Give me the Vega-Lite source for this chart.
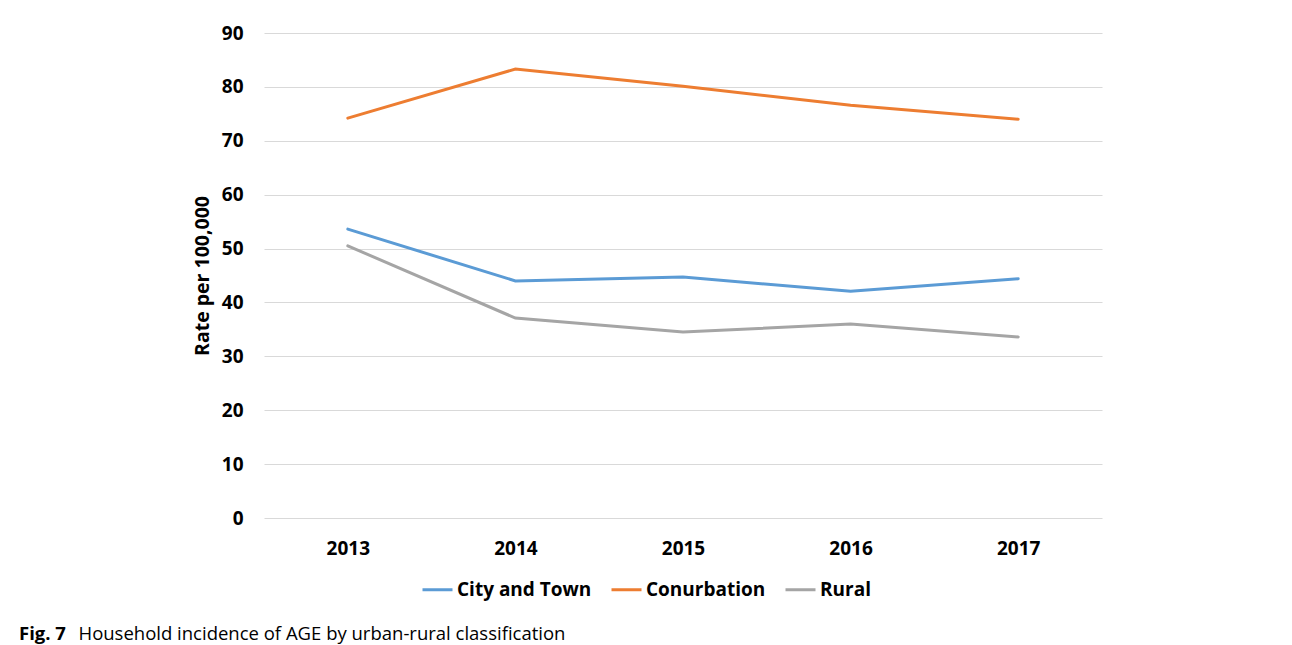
{
  "$schema": "https://vega.github.io/schema/vega-lite/v6.json",
  "width": 838,
  "height": 485,
  "autosize": {"type": "none"},
  "padding": {"left": 264, "top": 33, "right": 190, "bottom": 127},
  "background": "white",
  "title": {
    "text": "Fig. 7",
    "orient": "top",
    "anchor": "start",
    "frame": "group",
    "baseline": "alphabetic",
    "offset": 0,
    "dx": -245,
    "dy": 634,
    "font": "Open Sans",
    "fontSize": 18.5,
    "fontWeight": "bold",
    "color": "#000000"
  },
  "data": {
    "values": [
      {"year": "2013", "area": "City and Town", "rate": 53.6},
      {"year": "2014", "area": "City and Town", "rate": 44.0},
      {"year": "2015", "area": "City and Town", "rate": 44.7},
      {"year": "2016", "area": "City and Town", "rate": 42.1},
      {"year": "2017", "area": "City and Town", "rate": 44.4},
      {"year": "2013", "area": "Conurbation", "rate": 74.2},
      {"year": "2014", "area": "Conurbation", "rate": 83.3},
      {"year": "2015", "area": "Conurbation", "rate": 80.1},
      {"year": "2016", "area": "Conurbation", "rate": 76.6},
      {"year": "2017", "area": "Conurbation", "rate": 74.0},
      {"year": "2013", "area": "Rural", "rate": 50.5},
      {"year": "2014", "area": "Rural", "rate": 37.1},
      {"year": "2015", "area": "Rural", "rate": 34.5},
      {"year": "2016", "area": "Rural", "rate": 36.0},
      {"year": "2017", "area": "Rural", "rate": 33.6}
    ]
  },
  "mark": {"type": "line", "strokeWidth": 3, "strokeCap": "round"},
  "encoding": {
    "x": {
      "field": "year",
      "type": "ordinal",
      "scale": {"type": "point", "padding": 0.5},
      "axis": {
        "title": "Household incidence of AGE by urban-rural classification",
        "titleX": -186,
        "titleY": 121,
        "titleAlign": "left",
        "titleAnchor": null,
        "titleBaseline": "alphabetic",
        "titleFont": "Open Sans",
        "titleFontSize": 18.5,
        "titleFontWeight": "normal",
        "titleColor": "#000000",
        "labelAngle": 0,
        "labelFont": "Open Sans",
        "labelFontSize": 19,
        "labelFontWeight": "bold",
        "labelColor": "#000000",
        "labelPadding": 21,
        "ticks": false,
        "tickSize": 0,
        "domain": false,
        "grid": false
      }
    },
    "y": {
      "field": "rate",
      "type": "quantitative",
      "scale": {"domain": [0, 90], "nice": false},
      "axis": {
        "title": "Rate per 100,000",
        "titleFont": "Open Sans",
        "titleFontSize": 19.5,
        "titleFontWeight": "bold",
        "titleColor": "#000000",
        "titlePadding": 9,
        "values": [0, 10, 20, 30, 40, 50, 60, 70, 80, 90],
        "labelFont": "Open Sans",
        "labelFontSize": 19,
        "labelFontWeight": "bold",
        "labelColor": "#000000",
        "labelPadding": 21,
        "ticks": false,
        "tickSize": 0,
        "domain": false,
        "grid": true,
        "gridColor": "#d9d9d9",
        "gridWidth": 1.2
      }
    },
    "color": {
      "field": "area",
      "type": "nominal",
      "scale": {
        "domain": ["City and Town", "Conurbation", "Rural"],
        "range": ["#5B9BD5", "#ED7D31", "#A5A5A5"]
      },
      "legend": {
        "title": null,
        "orient": "none",
        "direction": "horizontal",
        "legendX": 157,
        "legendY": 540,
        "symbolType": "stroke",
        "symbolSize": 900,
        "symbolStrokeWidth": 3,
        "labelFont": "Open Sans",
        "labelFontSize": 19,
        "labelFontWeight": "bold",
        "labelColor": "#000000",
        "labelOffset": 3,
        "columnPadding": 13
      }
    }
  },
  "config": {
    "view": {"stroke": null}
  }
}
